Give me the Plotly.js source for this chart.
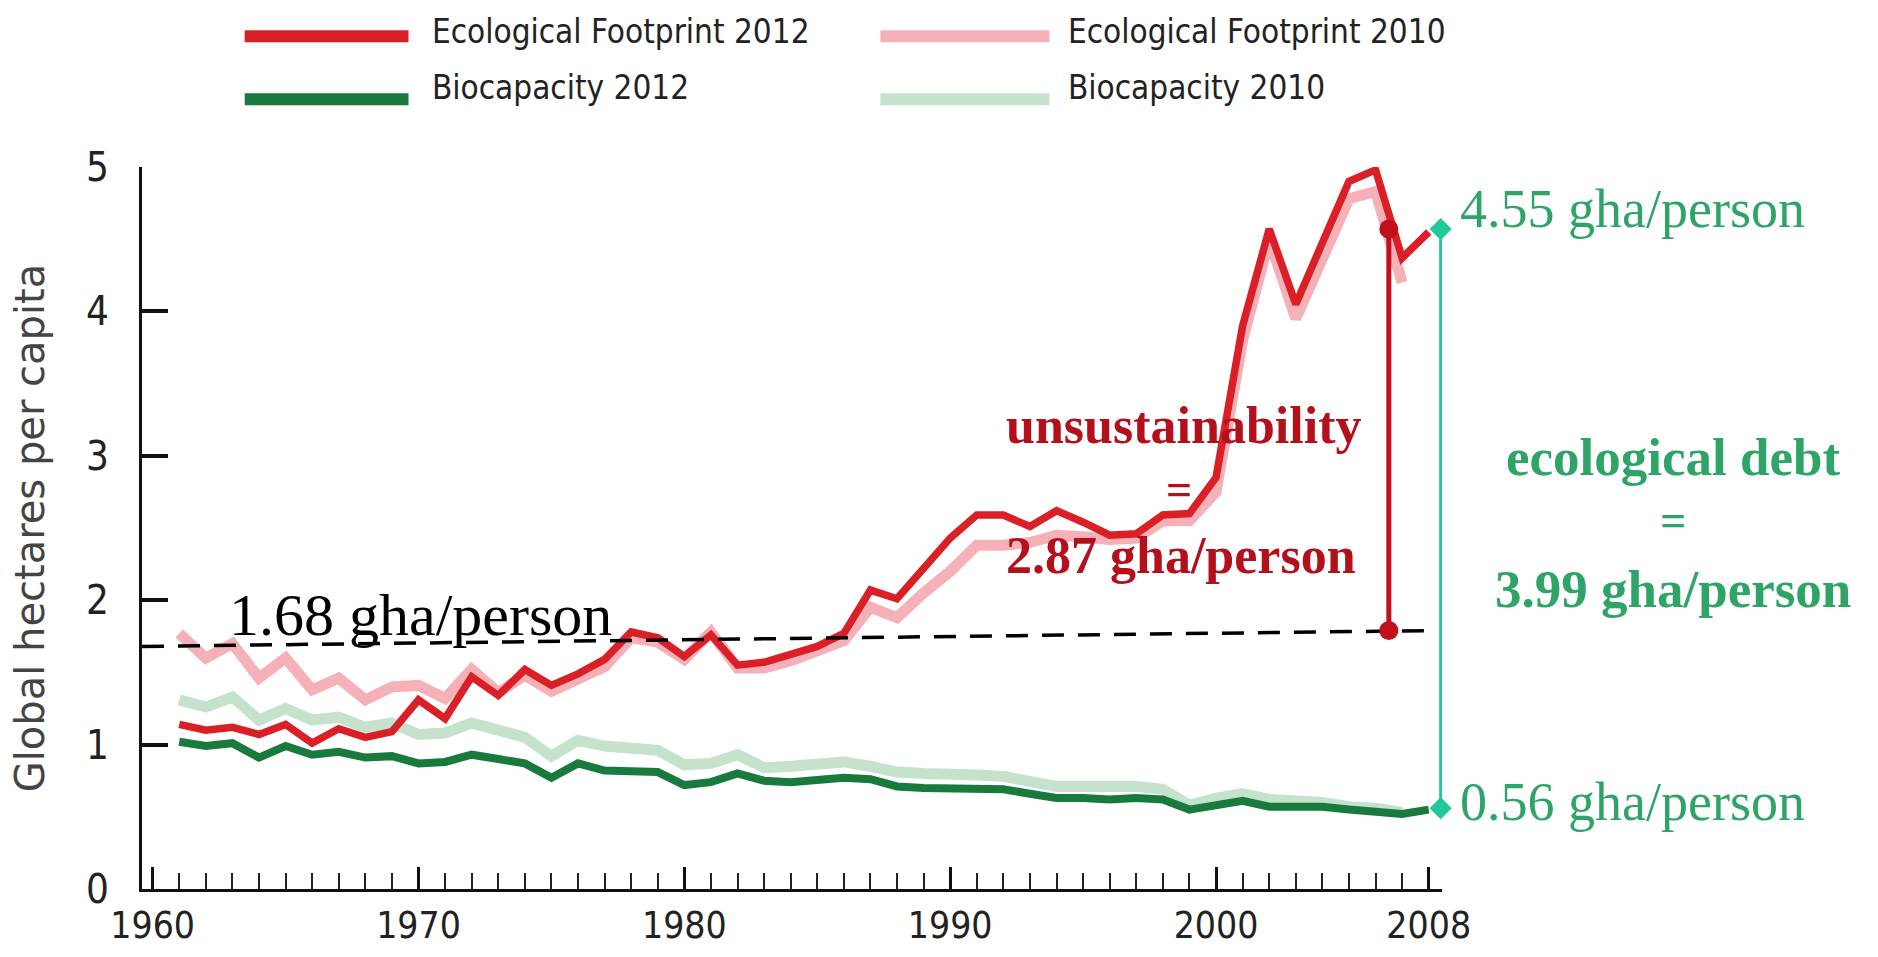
<!DOCTYPE html>
<html>
<head>
<meta charset="utf-8">
<script src="https://cdn.plot.ly/plotly-3.0.1.min.js"></script>
<style>
  html, body { margin: 0; padding: 0; background: #ffffff; }
  #chart { width: 1878px; height: 957px; }
</style>
</head>
<body>
<div id="chart"></div>
<script>
// ---- data ----
const years2012 = [1961,1962,1963,1964,1965,1966,1967,1968,1969,1970,1971,1972,1973,1974,1975,1976,1977,1978,1979,1980,
  1981,1982,1983,1984,1985,1986,1987,1988,1989,1990,1991,1992,1993,1994,1995,1996,1997,1998,1999,2000,
  2001,2002,2003,2004,2005,2006,2007,2008];
const years2010 = years2012.slice(0, 47); // 1961-2007

const footprint2012 = [1.14,1.10,1.12,1.07,1.14,1.01,1.11,1.05,1.09,1.31,1.18,1.47,1.34,1.52,1.41,1.49,1.59,1.78,1.74,1.61,
  1.76,1.55,1.57,1.62,1.68,1.77,2.07,2.01,2.22,2.43,2.59,2.59,2.51,2.62,2.54,2.45,2.46,2.59,2.60,2.85,
  3.90,4.57,4.05,4.48,4.90,4.98,4.37,4.55];
const footprint2010 = [1.77,1.60,1.70,1.46,1.60,1.38,1.46,1.31,1.40,1.41,1.32,1.52,1.36,1.48,1.37,1.46,1.54,1.74,1.71,1.59,
  1.78,1.53,1.53,1.58,1.64,1.72,1.95,1.88,2.05,2.20,2.38,2.38,2.40,2.45,2.44,2.42,2.43,2.55,2.55,2.75,
  3.80,4.50,3.95,4.36,4.78,4.83,4.20];
const biocap2012 = [1.02,0.99,1.01,0.91,0.99,0.93,0.95,0.91,0.92,0.87,0.88,0.93,0.90,0.87,0.77,0.87,0.82,0.82,0.81,0.72,
  0.74,0.80,0.75,0.74,0.75,0.77,0.76,0.71,0.70,0.70,0.69,0.69,0.66,0.63,0.63,0.62,0.63,0.62,0.55,0.58,
  0.61,0.57,0.57,0.57,0.55,0.54,0.52,0.55];
const biocap2010 = [1.31,1.26,1.33,1.17,1.25,1.17,1.19,1.12,1.15,1.07,1.08,1.15,1.10,1.05,0.92,1.03,0.99,0.97,0.96,0.86,
  0.87,0.93,0.84,0.85,0.87,0.88,0.85,0.81,0.80,0.80,0.79,0.78,0.75,0.71,0.71,0.71,0.71,0.69,0.58,0.63,
  0.66,0.62,0.61,0.60,0.57,0.56,0.53];

// reference level line (1.68 gha/person, drawn slightly rising in the original)
const levelX = [1959.6, 2008.3];
const levelY = [1.68, 1.79];

// unsustainability bar (2.87 gha/person) and ecological-debt bar (3.99 gha/person)
const unsustX = [2006.5, 2006.5];
const unsustY = [1.79, 4.57];
const debtX = [2008.45, 2008.45];
const debtY = [0.56, 4.57];

const xTickVals = [1960, 1970, 1980, 1990, 2000, 2008];
const xTickText = ['1960', '1970', '1980', '1990', '2000', '2008'];
const yTickVals = [0, 1, 2, 3, 4, 5];
const yTickText = ['0', '1', '2', '3', '4', '5'];

const seriesNames = ['Ecological Footprint 2012', 'Ecological Footprint 2010', 'Biocapacity 2012', 'Biocapacity 2010'];
const seriesColors = ['#da1f26', '#f6b0b8', '#187a3d', '#c4e2cc'];

// ---- chart ----
const condensed = 'Liberation Sans Narrow, DejaVu Sans Condensed, Arial Narrow, sans-serif';
const serif = 'Liberation Serif, Times New Roman, serif';

const traces = [
  {x: years2010, y: footprint2010, name: seriesNames[1], mode: 'lines', line: {color: seriesColors[1], width: 11}},
  {x: years2010, y: biocap2010, name: seriesNames[3], mode: 'lines', line: {color: seriesColors[3], width: 11}},
  {x: years2012, y: footprint2012, name: seriesNames[0], mode: 'lines', line: {color: seriesColors[0], width: 7.5}},
  {x: years2012, y: biocap2012, name: seriesNames[2], mode: 'lines', line: {color: seriesColors[2], width: 8}},
  {x: levelX, y: levelY, mode: 'lines', line: {color: '#000000', width: 3.5, dash: '22px,14px'}, hoverinfo: 'skip'},
  {x: unsustX, y: unsustY, mode: 'lines+markers', line: {color: '#c20f1b', width: 5},
   marker: {color: '#c20f1b', size: 19, symbol: 'circle'}, cliponaxis: false},
  {x: debtX, y: debtY, mode: 'lines+markers', line: {color: '#20c99a', width: 3},
   marker: {color: '#20c99a', size: 17, symbol: 'diamond'}, cliponaxis: false}
];

// legend drawn as shapes + text (long line samples like the original)
const legendRows = [1.181, 1.094];
const legendTextRows = [1.188, 1.110];
const legendCols = [[0.079, 0.205, 0.2215], [0.568, 0.698, 0.711]];
const legendOrder = [[0, 0], [1, 0], [0, 1], [1, 1]]; // [col,row] per seriesNames
const legendIdx = [0, 1, 2, 3];
const legendShapes = legendIdx.map(i => {
  const [c, r] = legendOrder[i];
  return {type: 'line', xref: 'paper', yref: 'paper',
    x0: legendCols[c][0], x1: legendCols[c][1], y0: legendRows[r], y1: legendRows[r],
    line: {color: seriesColors[i], width: 12}};
});
const legendTexts = legendIdx.map(i => {
  const [c, r] = legendOrder[i];
  return {xref: 'paper', yref: 'paper', x: legendCols[c][2], y: legendTextRows[r],
    xanchor: 'left', yanchor: 'middle', text: seriesNames[i], showarrow: false,
    font: {family: condensed, size: 33, color: '#222222'}};
});

const green = '#2ea466';
const darkRed = '#b3101c';
const notes = [
  {xref: 'x', yref: 'y', x: 1962.8, y: 1.90, xanchor: 'left', yanchor: 'middle', showarrow: false,
   text: '1.68 gha/person', font: {family: serif, size: 60, color: '#000000'}},
  {xref: 'x', yref: 'y', x: 1998.8, y: 3.21, xanchor: 'center', yanchor: 'middle', showarrow: false,
   text: '<b>unsustainability</b>', font: {family: serif, size: 52, color: darkRed}},
  {xref: 'x', yref: 'y', x: 1998.6, y: 2.77, xanchor: 'center', yanchor: 'middle', showarrow: false,
   text: '<b>=</b>', font: {family: serif, size: 46, color: darkRed}},
  {xref: 'x', yref: 'y', x: 1998.7, y: 2.31, xanchor: 'center', yanchor: 'middle', showarrow: false,
   text: '<b>2.87 gha/person</b>', font: {family: serif, size: 52, color: darkRed}},
  {xref: 'paper', yref: 'y', x: 1.012, y: 4.71, xanchor: 'left', yanchor: 'middle', showarrow: false,
   text: '4.55 gha/person', font: {family: serif, size: 54, color: green}},
  {xref: 'paper', yref: 'y', x: 1.012, y: 0.60, xanchor: 'left', yanchor: 'middle', showarrow: false,
   text: '0.56 gha/person', font: {family: serif, size: 54, color: green}},
  {xref: 'paper', yref: 'y', x: 1.178, y: 2.99, xanchor: 'center', yanchor: 'middle', showarrow: false,
   text: '<b>ecological debt</b>', font: {family: serif, size: 53, color: green}},
  {xref: 'paper', yref: 'y', x: 1.178, y: 2.55, xanchor: 'center', yanchor: 'middle', showarrow: false,
   text: '<b>=</b>', font: {family: serif, size: 46, color: green}},
  {xref: 'paper', yref: 'y', x: 1.178, y: 2.08, xanchor: 'center', yanchor: 'middle', showarrow: false,
   text: '<b>3.99 gha/person</b>', font: {family: serif, size: 53, color: green}}
];

const layout = {
  width: 1878, height: 957,
  margin: {l: 142, r: 436, t: 167, b: 68},
  paper_bgcolor: '#ffffff', plot_bgcolor: '#ffffff',
  showlegend: false,
  xaxis: {
    range: [1959.6, 2008.5], showgrid: false, zeroline: false,
    showline: true, linecolor: '#111111', linewidth: 3,
    tickmode: 'array', tickvals: xTickVals, ticktext: xTickText,
    ticks: 'inside', ticklen: 22, tickwidth: 3, tickcolor: '#111111',
    minor: {ticks: 'inside', tickmode: 'linear', tick0: 1960, dtick: 1, ticklen: 16, tickwidth: 2, tickcolor: '#222222', showgrid: false},
    tickfont: {family: condensed, size: 37, color: '#222222'},
    ticklabelstandoff: 2
  },
  yaxis: {
    range: [0, 5], showgrid: false, zeroline: false,
    showline: true, linecolor: '#111111', linewidth: 3,
    tickmode: 'array', tickvals: yTickVals, ticktext: yTickText,
    ticks: 'inside', ticklen: 26, tickwidth: 4, tickcolor: '#111111',
    tickfont: {family: condensed, size: 40, color: '#222222'},
    ticklabelstandoff: 22,
    title: {text: 'Global hectares per capita', standoff: 30,
            font: {family: 'DejaVu Sans, sans-serif', size: 40, color: '#444444'}}
  },
  shapes: legendShapes,
  annotations: legendTexts.concat(notes)
};

Plotly.newPlot('chart', traces, layout, {staticPlot: true, displayModeBar: false});
</script>
</body>
</html>
